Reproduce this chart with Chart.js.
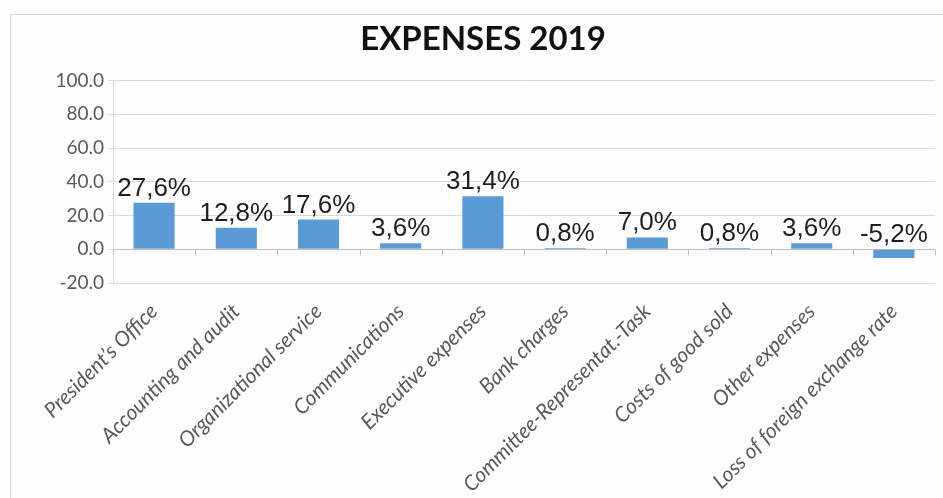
<!DOCTYPE html>
<html>
<head>
<meta charset="utf-8">
<script src="https://cdn.jsdelivr.net/npm/chart.js@4.4.0/dist/chart.umd.min.js"></script>
<style>
  html, body { margin: 0; padding: 0; background: #fdfdfd; overflow: hidden; }
  body { width: 943px; height: 498px; position: relative; }
  .frame {
    position: absolute; left: 10px; top: 14px; width: 960px; height: 520px;
    border-left: 1px solid #d9d9d9; border-top: 1px solid #d9d9d9;
  }
  .wrap { position: absolute; left: 10px; top: 0; width: 946px; height: 498px; }
</style>
</head>
<body>
<div class="frame"></div>
<div class="wrap"><canvas id="expensesChart"></canvas></div>
<script>
/* expenses share by item, percent */
const categories = [
  'President’s Office', 'Accounting and audit', 'Organizational service',
  'Communications', 'Executive expenses', 'Bank charges',
  'Committee-Representat.-Task', 'Costs of good sold', 'Other expenses',
  'Loss of foreign exchange rate'
];
const shares = [27.6, 12.8, 17.6, 3.6, 31.4, 0.8, 7.0, 0.8, 3.6, -5.2];
const yTicks = [-20, 0, 20, 40, 60, 80, 100];

const fmtPct = v => v.toFixed(1).replace('.', ',') + '%';

/* zero line with category tick marks, like an axis crossing at 0 */
const zeroAxis = {
  id: 'zeroAxis',
  beforeDatasetsDraw(chart) {
    const { ctx, chartArea, scales: { y } } = chart;
    const y0 = Math.round(y.getPixelForValue(0)) + 0.5;
    ctx.save();
    ctx.strokeStyle = '#bfbfbf';
    ctx.lineWidth = 1;
    ctx.beginPath();
    ctx.moveTo(chartArea.left, y0);
    ctx.lineTo(chartArea.right, y0);
    const step = (chartArea.right - chartArea.left) / categories.length;
    for (let i = 0; i <= categories.length; i++) {
      const xp = Math.round(chartArea.left + i * step) + 0.5;
      ctx.moveTo(xp, y0);
      ctx.lineTo(xp, y0 + 6);
    }
    ctx.stroke();
    ctx.restore();
  }
};

/* value labels above each bar (above the base for negatives) */
const valueLabels = {
  id: 'valueLabels',
  afterDatasetsDraw(chart) {
    const { ctx, scales: { y } } = chart;
    const meta = chart.getDatasetMeta(0);
    ctx.save();
    ctx.font = '26px "Liberation Sans", Arial, sans-serif';
    ctx.fillStyle = '#1e1e1e';
    ctx.textAlign = 'center';
    ctx.textBaseline = 'alphabetic';
    meta.data.forEach((bar, i) => {
      const top = y.getPixelForValue(Math.max(shares[i], 0));
      ctx.fillText(fmtPct(shares[i]), bar.x, top - 7);
    });
    ctx.restore();
  }
};

new Chart(document.getElementById('expensesChart'), {
  type: 'bar',
  data: {
    labels: categories,
    datasets: [{
      data: shares,
      backgroundColor: '#5b9bd5',
      categoryPercentage: 1,
      barPercentage: 0.5,
    }],
  },
  options: {
    responsive: true,
    maintainAspectRatio: false,
    animation: false,
    plugins: {
      legend: { display: false },
      tooltip: { enabled: false },
      title: {
        display: true,
        text: 'EXPENSES 2019',
        color: '#111111',
        font: { family: 'Lato', size: 33, weight: 'bold' },
        padding: { top: 20, bottom: 21 },
      },
    },
    scales: {
      y: {
        min: -20,
        max: 100,
        afterBuildTicks: scale => { scale.ticks = yTicks.map(v => ({ value: v })); },
        afterFit: scale => { scale.width = 103; },
        ticks: {
          color: '#595959',
          font: { family: 'Lato', size: 19 },
          padding: 4,
          callback: v => v.toFixed(1),
        },
        grid: { color: '#d9d9d9', tickLength: 5 },
        border: { display: true, color: '#d9d9d9' },
      },
      // empty right-hand strip so the plot stops short of the edge
      yGap: {
        position: 'right',
        afterFit: scale => { scale.width = 21; },
        ticks: { display: false },
        grid: { display: false },
        border: { display: false },
      },
      x: {
        afterFit: scale => { scale.height = 215; },
        ticks: {
          color: '#595959',
          font: { family: 'Lato', size: 21, style: 'italic' },
          minRotation: 45,
          maxRotation: 45,
          autoSkip: false,
          padding: 8,
        },
        grid: { display: false },
        border: { display: false },
      },
    },
  },
  plugins: [zeroAxis, valueLabels],
});
</script>
</body>
</html>
